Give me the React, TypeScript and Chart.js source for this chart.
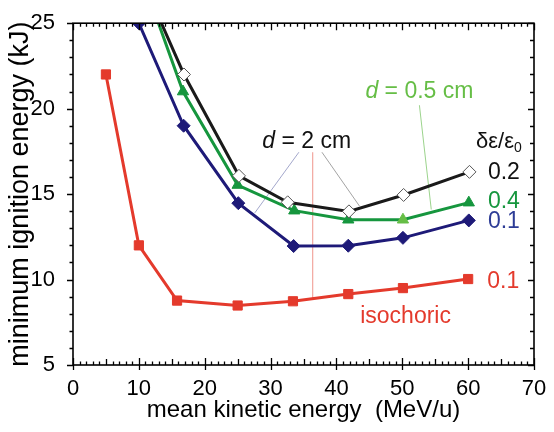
import React, { useEffect, useRef } from 'react';
import { Chart, registerables } from 'chart.js';

Chart.register(...registerables);

const FONT = '"Liberation Sans", Arial, Helvetica, sans-serif';

// ---- data ----
const isochoricX = [5, 10, 15.8, 25, 33.4, 41.8, 50.1, 60];
const isochoricY = [22, 12, 8.77, 8.48, 8.73, 9.15, 9.5, 10.03];

const d2cm01X = [10, 16.8, 25.1, 33.5, 41.8, 50.1, 60.1];
const d2cm01Y = [25, 19, 14.47, 11.96, 11.98, 12.44, 13.46];

const d05cm04X = [10, 16.7, 25, 33.6, 41.8, 50.1, 60.1];
const d05cm04Y = [28.2, 21, 15.53, 14.03, 13.5, 13.5, 14.5];

const d2cm02X = [10, 16.85, 25.2, 32.6, 41.9, 50.2, 60.2];
const d2cm02Y = [28, 22, 16.07, 14.52, 13.99, 14.95, 16.3];

const xTickRange = [0, 70];
const yTickRange = [5, 25];
const xTitle = 'mean kinetic energy  (MeV/u)';
const yTitle = 'minimum ignition energy (kJ)';

const RED = 'rgb(228,58,44)';
const BLUE = 'rgb(30,26,120)';
const GREEN = 'rgb(22,150,62)';
const LIGHTGREEN = 'rgb(102,190,70)';
const BLACK = '#1a1a1a';

const pts = (xs: number[], ys: number[]) => xs.map((x, i) => ({ x, y: ys[i] }));

const framePlugin = {
  id: 'frameTicks',
  afterDraw(chart: any) {
    const { ctx, chartArea: a, scales } = chart;
    const x = scales.x, y = scales.y;
    ctx.save();
    ctx.strokeStyle = '#000';
    ctx.lineWidth = 1.6;
    ctx.strokeRect(a.left, a.top, a.right - a.left, a.bottom - a.top);
    ctx.lineWidth = 1.3;
    ctx.beginPath();
    for (let v = x.min; v <= x.max; v += 1) {
      const px = Math.round(x.getPixelForValue(v)) + 0.5;
      const major = v % 10 === 0, mid = v % 5 === 0;
      const len = major ? 7 : mid ? 6 : 3.5;
      ctx.moveTo(px, a.bottom); ctx.lineTo(px, a.bottom - len);
      if (major) { ctx.moveTo(px, a.bottom); ctx.lineTo(px, a.bottom + 5); }
      ctx.moveTo(px, a.top); ctx.lineTo(px, a.top + len);
    }
    for (let v = y.min; v <= y.max; v += 1) {
      const py = Math.round(y.getPixelForValue(v)) + 0.5;
      const major = v % 5 === 0;
      const len = major ? 6 : 3.5;
      ctx.moveTo(a.left, py); ctx.lineTo(a.left - len, py);
      ctx.moveTo(a.right, py); ctx.lineTo(a.right - (major ? 6 : 4), py);
    }
    ctx.stroke();
    ctx.restore();
  },
};

const annotationPlugin = {
  id: 'annot',
  beforeDatasetsDraw(chart: any) {
    const { ctx, scales: { x, y } } = chart;
    const X = (v: number) => x.getPixelForValue(v);
    const Y = (v: number) => y.getPixelForValue(v);
    ctx.save();
    ctx.lineWidth = 0.8;
    const line = (c: string, x1: number, y1: number, x2: number, y2: number) => {
      ctx.strokeStyle = c;
      ctx.beginPath();
      ctx.moveTo(X(x1), Y(y1));
      ctx.lineTo(X(x2), Y(y2));
      ctx.stroke();
    };
    line('rgb(140,145,190)', 34.3, 17.45, 27.6, 13.9);
    line('rgb(140,140,140)', 37.8, 17.45, 43.5, 14.3);
    line('rgb(235,120,110)', 36.4, 17.45, 36.4, 8.9);
    line('rgb(130,200,110)', 52.6, 20.2, 54.4, 14.1);
    ctx.restore();
  },
  afterDraw(chart: any) {
    const { ctx, scales: { x, y } } = chart;
    const X = (v: number) => x.getPixelForValue(v);
    const Y = (v: number) => y.getPixelForValue(v);
    ctx.save();
    ctx.textBaseline = 'alphabetic';
    const f = (s: number, it = false) => `${it ? 'italic ' : ''}${s}px ${FONT}`;
    const dLabel = (rest: string, cx: number, cy: number, color: string) => {
      ctx.fillStyle = color;
      ctx.font = f(23, true);
      const w1 = ctx.measureText('d').width;
      ctx.font = f(23);
      const w2 = ctx.measureText(rest).width;
      const left = X(cx) - (w1 + w2) / 2;
      ctx.textAlign = 'left';
      ctx.font = f(23, true);
      ctx.fillText('d', left, Y(cy));
      ctx.font = f(23);
      ctx.fillText(rest, left + w1, Y(cy));
    };
    dLabel(' = 2 cm', 35.5, 17.7, '#111');
    dLabel(' = 0.5 cm', 52.6, 20.6, LIGHTGREEN);

    ctx.fillStyle = '#111';
    ctx.textAlign = 'left';
    ctx.font = f(22);
    const main = 'δε/ε';
    const left = X(61.2);
    ctx.fillText(main, left, Y(17.7));
    const mw = ctx.measureText(main).width;
    ctx.font = f(14);
    ctx.fillText('0', left + mw, Y(17.7) + 4);

    ctx.font = f(23);
    ctx.fillStyle = '#111';
    ctx.fillText('0.2', X(63.0), Y(15.9));
    ctx.fillStyle = GREEN;
    ctx.fillText('0.4', X(63.0), Y(14.16));
    ctx.fillStyle = 'rgb(45,60,150)';
    ctx.fillText('0.1', X(63.0), Y(13.0));
    ctx.fillStyle = RED;
    ctx.fillText('0.1', X(62.9), Y(9.52));
    ctx.textAlign = 'center';
    ctx.fillText('isochoric', X(50.5), Y(7.43));
    ctx.restore();
  },
};

export default function App() {
  const ref = useRef<HTMLCanvasElement>(null);
  useEffect(() => {
    if (!ref.current) return;
    const chart = new Chart(ref.current, {
      type: 'line',
      data: {
        datasets: [
          {
            label: 'd=2cm 0.2',
            data: pts(d2cm02X, d2cm02Y),
            borderColor: BLACK,
            borderWidth: 3,
            pointStyle: 'rectRot',
            pointRadius: 6.5,
            pointBackgroundColor: '#fff',
            pointBorderColor: '#555',
            pointBorderWidth: 1,
            order: 1,
          },
          {
            label: 'd=0.5cm 0.4',
            data: pts(d05cm04X, d05cm04Y),
            borderColor: GREEN,
            borderWidth: 3,
            pointStyle: 'triangle',
            pointRadius: 6.5,
            pointBackgroundColor: d05cm04X.map((v) => (v > 45 && v < 55 ? LIGHTGREEN : GREEN)),
            pointBorderColor: d05cm04X.map((v) => (v > 45 && v < 55 ? LIGHTGREEN : GREEN)),
            pointBorderWidth: 1,
            order: 2,
          },
          {
            label: 'd=2cm 0.1',
            data: pts(d2cm01X, d2cm01Y),
            borderColor: BLUE,
            borderWidth: 3,
            pointStyle: 'rectRot',
            pointRadius: 6.5,
            pointBackgroundColor: BLUE,
            pointBorderColor: BLUE,
            pointBorderWidth: 1,
            order: 3,
          },
          {
            label: 'isochoric 0.1',
            data: pts(isochoricX, isochoricY),
            borderColor: RED,
            borderWidth: 3,
            pointStyle: 'rect',
            pointRadius: 6.5,
            pointBackgroundColor: RED,
            pointBorderColor: RED,
            pointBorderWidth: 1,
            order: 4,
          },
        ],
      },
      options: {
        responsive: false,
        animation: false,
        devicePixelRatio: 1,
        layout: { padding: { top: 20, right: 20, left: 0, bottom: 0 } },
        plugins: { legend: { display: false }, tooltip: { enabled: false } },
        elements: { line: { tension: 0 } },
        scales: {
          x: {
            type: 'linear',
            min: xTickRange[0],
            max: xTickRange[1],
            grid: { display: false },
            border: { display: false },
            ticks: { stepSize: 10, color: '#000', font: { family: FONT, size: 22 }, padding: 3, maxRotation: 0 },
            title: { display: true, text: xTitle, color: '#000', font: { family: FONT, size: 24 }, padding: 7 },
            afterFit: (s: any) => { s.height = 67; },
          },
          y: {
            type: 'linear',
            min: yTickRange[0],
            max: yTickRange[1],
            grid: { display: false },
            border: { display: false },
            ticks: { stepSize: 5, color: '#000', font: { family: FONT, size: 22 }, padding: 10 },
            title: { display: true, text: yTitle, color: '#000', font: { family: FONT, size: 27 }, padding: 4 },
            afterFit: (s: any) => { s.width = 73; },
          },
        },
      },
      plugins: [annotationPlugin, framePlugin],
    } as any);
    return () => chart.destroy();
  }, []);
  return (
    <div style={{ position: 'fixed', left: 0, top: 0, width: 554, height: 432, background: '#fff' }}>
      <canvas ref={ref} width={554} height={432} />
    </div>
  );
}
